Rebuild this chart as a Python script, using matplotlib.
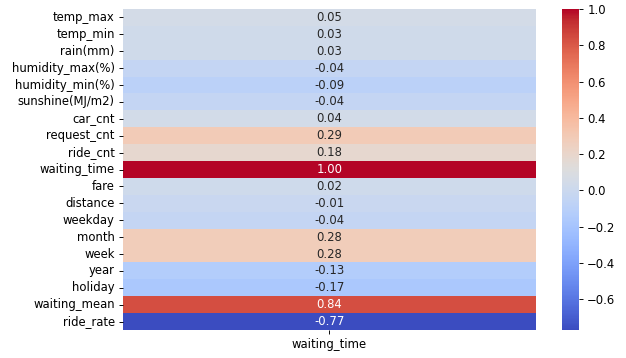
import numpy as np
import pandas as pd
import matplotlib
matplotlib.use("Agg")
import matplotlib.pyplot as plt
import seaborn as sns

# correlation of each feature with waiting_time
features = ["temp_max", "temp_min", "rain(mm)", "humidity_max(%)", "humidity_min(%)",
            "sunshine(MJ/m2)", "car_cnt", "request_cnt", "ride_cnt", "waiting_time",
            "fare", "distance", "weekday", "month", "week", "year", "holiday",
            "waiting_mean", "ride_rate"]
corr_values = [0.05, 0.03, 0.03, -0.04, -0.09, -0.04, 0.04, 0.29, 0.18, 1.00,
               0.02, -0.01, -0.04, 0.28, 0.28, -0.13, -0.17, 0.84, -0.77]

df = pd.DataFrame({"waiting_time": corr_values}, index=features)

dpi = 84
fig = plt.figure(figsize=(626 / dpi, 358 / dpi), dpi=dpi)
ax = fig.add_axes([0.1965, 0.078, 0.659, 0.897])
cax = fig.add_axes([0.898, 0.078, 0.027, 0.897])

sns.heatmap(df, annot=True, fmt=".2f", cmap="coolwarm", ax=ax, cbar_ax=cax)

fig.savefig("out.png", dpi=dpi)
